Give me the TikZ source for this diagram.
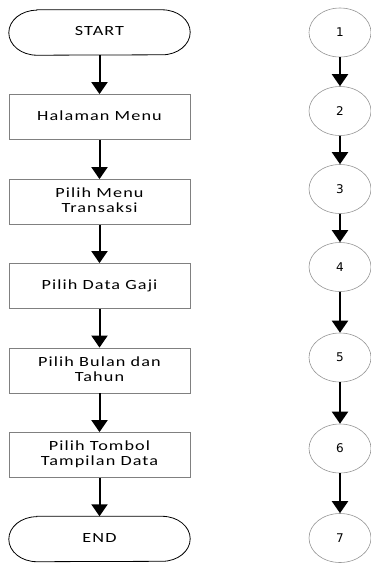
\documentclass[tikz,border=0pt]{standalone}
\usepackage{fontspec}
\usepackage{graphicx}
\usetikzlibrary{shapes.geometric,arrows.meta}
\newfontfamily\flowfont[LetterSpace=6]{Carlito}
\newfontfamily\numfont{DejaVu Sans}
% wide flowchart lettering, one or more centred lines
\newcommand\flowtext[1]{\scalebox{1.3}[1]{\flowfont\fontsize{14}{15}\selectfont\begin{tabular}{@{}c@{}}#1\end{tabular}}}
\definecolor{boxline}{RGB}{128,128,128}
\definecolor{ovalline}{RGB}{150,150,150}
\tikzset{
  terminal/.style={rectangle, minimum width=181pt, minimum height=45pt, inner sep=0pt},
  terminalline/.style={draw=black, line width=0.8pt},
  stepbox/.style={rectangle, draw=boxline, line width=0.8pt,
    minimum width=181pt, minimum height=45pt, inner sep=0pt},
  connector/.style={ellipse, draw=ovalline, line width=0.6pt,
    minimum width=62pt, minimum height=49pt, inner sep=0pt,
    font=\numfont\fontsize{12}{13}\selectfont},
  flow/.style={line width=2pt, -{Triangle[width=16pt,length=12pt]}}
}
% outline of a terminal node with elliptical ends
\newcommand\terminaloutline[1]{%
  \draw[terminalline] ([xshift=28pt]#1.north west) -- ([xshift=-28pt]#1.north east)
    arc[start angle=90, end angle=-90, x radius=28pt, y radius=22.5pt]
    -- ([xshift=28pt]#1.south west)
    arc[start angle=270, end angle=90, x radius=28pt, y radius=22.5pt] -- cycle;}
\begin{document}
\begin{tikzpicture}[x=1pt,y=-1pt]
\useasboundingbox (0,0) rectangle (371,563);
% main flow
\node[terminal] (start) at (99.5,32.5) {\flowtext{START}};
\terminaloutline{start}
\node[stepbox] (menu) at (99.5,117) {\flowtext{Halaman Menu}};
\node[stepbox] (trans) at (99.5,202) {\flowtext{Pilih Menu\\Transaksi}};
\node[stepbox] (gaji) at (99.5,286) {\flowtext{Pilih Data Gaji}};
\node[stepbox] (bulan) at (99.5,370.5) {\flowtext{Pilih Bulan dan\\Tahun}};
\node[stepbox] (tombol) at (99.5,455) {\flowtext{Pilih Tombol\\Tampilan Data}};
\node[terminal] (end) at (99.5,539) {\flowtext{END}};
\terminaloutline{end}
\draw[flow] (start) -- (menu);
\draw[flow] (menu) -- (trans);
\draw[flow] (trans) -- (gaji);
\draw[flow] (gaji) -- (bulan);
\draw[flow] (bulan) -- (tombol);
\draw[flow] (tombol) -- (end);
% numbered connectors
\node[connector] (c1) at (340,32.5) {1};
\node[connector] (c2) at (340,111) {2};
\node[connector] (c3) at (340,189) {3};
\node[connector] (c4) at (340,267) {4};
\node[connector] (c5) at (340,357.5) {5};
\node[connector] (c6) at (340,448.5) {6};
\node[connector] (c7) at (340,538) {7};
\draw[flow] (c1) -- (c2);
\draw[flow] (c2) -- (c3);
\draw[flow] (c3) -- (c4);
\draw[flow] (c4) -- (c5);
\draw[flow] (c5) -- (c6);
\draw[flow] (c6) -- (c7);
\end{tikzpicture}
\end{document}
